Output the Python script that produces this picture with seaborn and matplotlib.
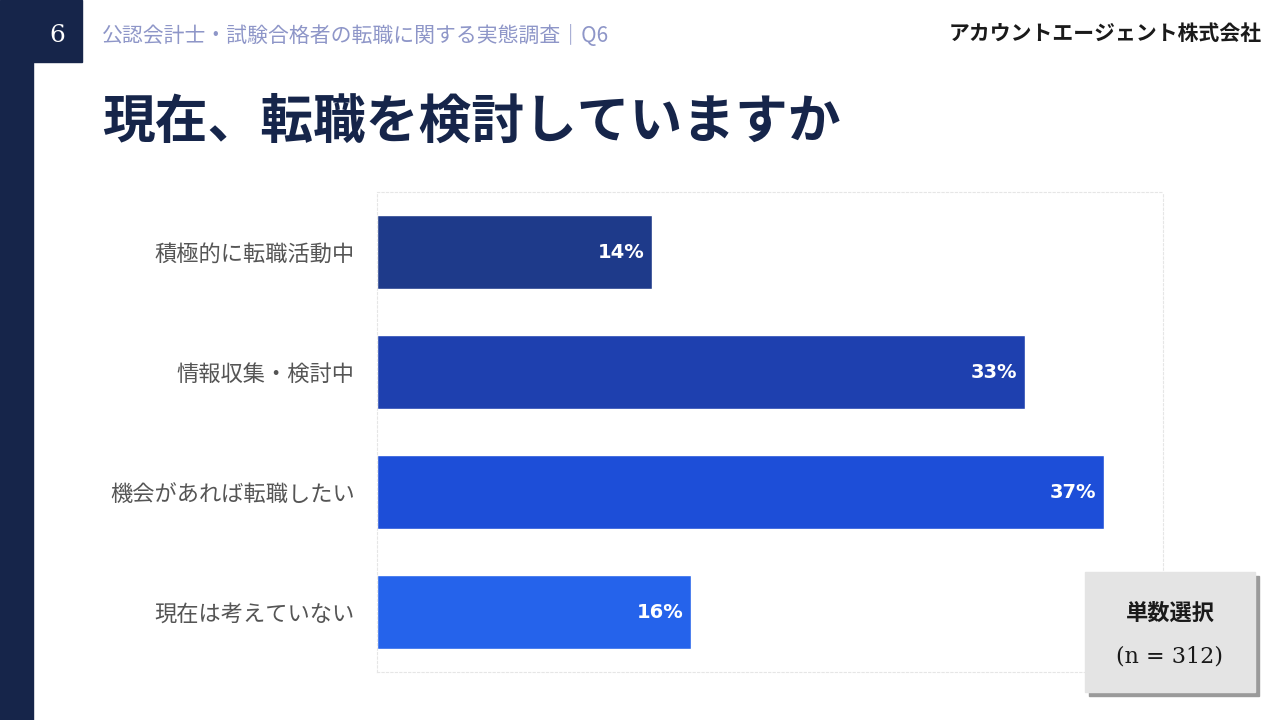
import matplotlib.pyplot as plt
import matplotlib.patches as mpatches
import seaborn as sns
import pandas as pd

categories = ["積極的に転職活動中", "情報収集・検討中", "機会があれば転職したい", "現在は考えていない"]
values = [14, 33, 37, 16]
colors = ["#1E3A8A", "#1E40AF", "#1D4ED8", "#2563EB"]

sns.set_style("white")
plt.rcParams['font.family'] = ['Noto Sans CJK JP', 'DejaVu Sans']

fig = plt.figure(figsize=(12.8, 7.2), dpi=100)
fig.patch.set_facecolor("white")

# left strip and page number
fig.add_artist(mpatches.Rectangle((0, 0), 33 / 1280, 1, transform=fig.transFigure, color="#16254A"))
fig.add_artist(mpatches.Rectangle((33 / 1280, 1 - 62 / 720), 49 / 1280, 62 / 720,
                                  transform=fig.transFigure, color="#16254A"))
fig.text(57 / 1280, 1 - 36 / 720, "6", color="white", fontsize=18, ha="center", va="center", family="DejaVu Serif")
fig.text(102 / 1280, 1 - 36 / 720, "公認会計士・試験合格者の転職に関する実態調査｜Q6", color="#8E96C8",
         fontsize=15, ha="left", va="center")
fig.text(1262 / 1280, 1 - 34 / 720, "アカウントエージェント株式会社", color="#1a1a1a",
         fontsize=15, ha="right", va="center", fontweight="bold")
fig.text(102 / 1280, 1 - 122 / 720, "現在、転職を検討していますか", color="#16254A",
         fontsize=38, ha="left", va="center", fontweight="bold")

ax = fig.add_axes([377 / 1280, 48 / 720, 786 / 1280, 480 / 720])
df = pd.DataFrame({"category": categories, "value": values})
sns.barplot(data=df, x="value", y="category", hue="category", palette=colors,
            width=0.62, ax=ax, legend=False, saturation=1)
ax.set_xlim(0, 40)
ax.set_ylim(3.5, -0.5)
ax.set_xlabel("")
ax.set_ylabel("")
ax.set_xticks([])
ax.tick_params(axis="y", length=0, labelsize=16, labelcolor="#555555", pad=16)
for s in ax.spines.values():
    s.set_linestyle((0, (2, 2)))
    s.set_color("#e6e6e6")
    s.set_linewidth(0.8)
for i, v in enumerate(values):
    ax.text(v - 0.4, i, f"{v}%", color="white", fontsize=14, fontweight="bold",
            ha="right", va="center", family="DejaVu Sans")

# note box with shadow
fig.add_artist(mpatches.Rectangle((1089 / 1280, 1 - 696 / 720), 170 / 1280, 120 / 720,
                                  transform=fig.transFigure, color="#9a9a9a"))
fig.add_artist(mpatches.Rectangle((1085 / 1280, 1 - 692 / 720), 170 / 1280, 120 / 720,
                                  transform=fig.transFigure, color="#e4e4e4"))
fig.text(1170 / 1280, 1 - 613 / 720, "単数選択", fontsize=16, fontweight="bold",
         ha="center", va="center", color="#1a1a1a")
fig.text(1170 / 1280, 1 - 656 / 720, "(n = 312)", fontsize=16, ha="center", va="center",
         color="#1a1a1a", family="DejaVu Serif")

fig.savefig("out.png", dpi=100)
